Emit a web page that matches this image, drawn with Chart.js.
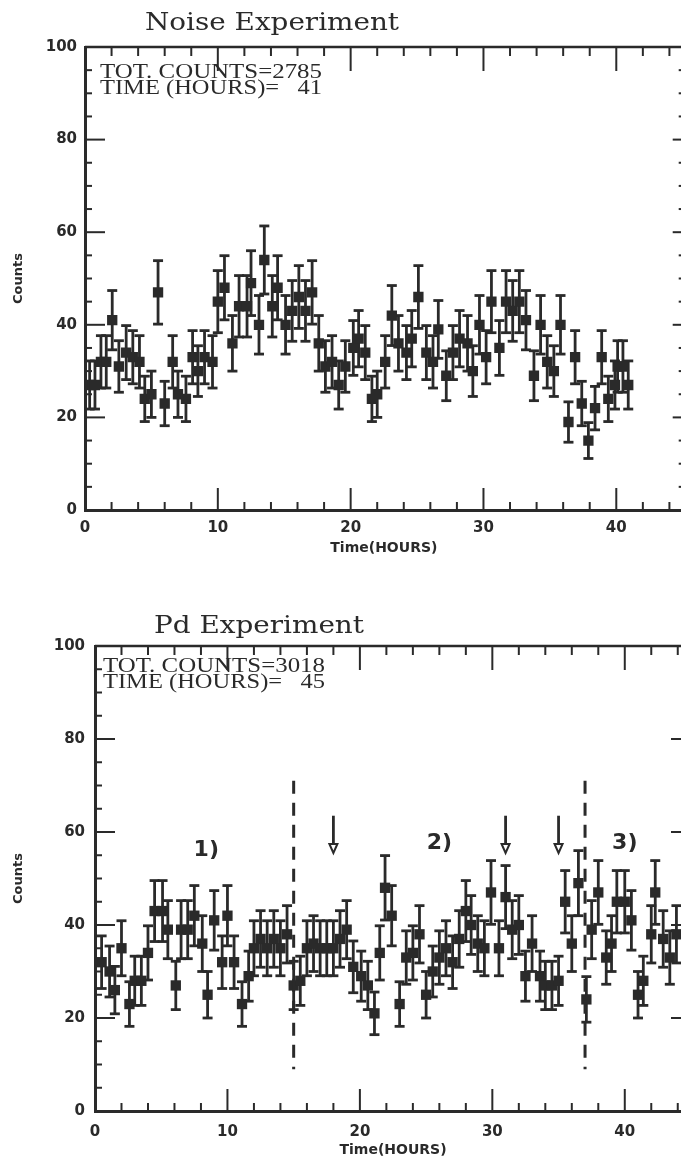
<!DOCTYPE html>
<html>
<head>
<meta charset="utf-8">
<script src="https://cdn.jsdelivr.net/npm/chart.js@4.4.0/dist/chart.umd.min.js"></script>
<style>
  html, body { margin: 0; padding: 0; background: #fff; width: 681px; height: 1156px; overflow: hidden; }
  .panel { position: absolute; left: 0; }
</style>
</head>
<body>
<div class="panel" style="top:0"><canvas id="noiseChart" width="690" height="580"></canvas></div>
<div class="panel" style="top:580px"><canvas id="pdChart" width="700" height="590"></canvas></div>
<script>
// ---- data ----
var noiseHours = [0.35, 0.75, 1.2, 1.6, 2.05, 2.55, 3.1, 3.6, 4.1, 4.5, 5.0, 5.5, 6.0, 6.6, 7.0, 7.6,
  8.1, 8.5, 9.0, 9.6, 10.0, 10.5, 11.1, 11.6, 12.2, 12.5, 13.1, 13.5, 14.1, 14.5, 15.1, 15.6,
  16.1, 16.6, 17.1, 17.6, 18.1, 18.6, 19.1, 19.6, 20.2, 20.6, 21.1, 21.6, 22.0, 22.6, 23.1, 23.6,
  24.2, 24.6, 25.1, 25.7, 26.2, 26.6, 27.2, 27.7, 28.2, 28.8, 29.2, 29.7, 30.2, 30.6, 31.2, 31.7,
  32.2, 32.7, 33.2, 33.8, 34.3, 34.8, 35.3, 35.8, 36.4, 36.9, 37.4, 37.9, 38.4, 38.9, 39.4, 39.9,
  40.1, 40.5, 40.9];
var noiseCounts = [27, 27, 32, 32, 41, 31, 34, 33, 32, 24, 25, 47, 23, 32, 25, 24,
  33, 30, 33, 32, 45, 48, 36, 44, 44, 49, 40, 54, 44, 48, 40, 43,
  46, 43, 47, 36, 31, 32, 27, 31, 35, 37, 34, 24, 25, 32, 42, 36,
  34, 37, 46, 34, 32, 39, 29, 34, 37, 36, 30, 40, 33, 45, 35, 45,
  43, 45, 41, 29, 40, 32, 30, 40, 19, 33, 23, 15, 22, 33, 24, 27,
  31, 31, 27];

var pdHours = [0.5, 1.1, 1.5, 2.0, 2.6, 3.0, 3.5, 4.0, 4.5, 5.1, 5.5, 6.1, 6.5, 7.0, 7.5, 8.1,
  8.5, 9.0, 9.6, 10.0, 10.5, 11.1, 11.6, 12.0, 12.5, 13.0, 13.5, 14.0, 14.5, 15.0, 15.5, 16.0,
  16.5, 17.0, 17.5, 18.0, 18.5, 19.0, 19.5, 20.1, 20.6, 21.1, 21.5, 21.9, 22.4, 23.0, 23.5, 24.0,
  24.5, 25.0, 25.5, 26.0, 26.5, 27.0, 27.5, 28.0, 28.4, 28.9, 29.4, 29.9, 30.5, 31.0, 31.5, 32.0,
  32.5, 33.0, 33.6, 34.0, 34.5, 35.0, 35.5, 36.0, 36.5, 37.1, 37.5, 38.0, 38.6, 39.0, 39.4, 40.0,
  40.5, 41.0, 41.4, 42.0, 42.3, 42.9, 43.4, 43.9];
var pdCounts = [32, 30, 26, 35, 23, 28, 28, 34, 43, 43, 39, 27, 39, 39, 42, 36,
  25, 41, 32, 42, 32, 23, 29, 35, 37, 35, 37, 35, 38, 27, 28, 35,
  36, 35, 35, 35, 37, 39, 31, 29, 27, 21, 34, 48, 42, 23, 33, 34,
  38, 25, 30, 33, 35, 32, 37, 43, 40, 36, 35, 47, 35, 46, 39, 40,
  29, 36, 29, 27, 27, 28, 45, 36, 49, 24, 39, 47, 33, 36, 45, 45,
  41, 25, 28, 38, 47, 37, 33, 38];

var noiseNotes = ['TOT. COUNTS=2785', 'TIME (HOURS)=   41'];
var pdNotes = ['TOT. COUNTS=3018', 'TIME (HOURS)=   45'];

// Pd panel annotations
var dashHours = [15, 37];
var arrowHours = [18, 31, 35];
var regionLabels = ['1)', '2)', '3)'];
var regionHours = [8.4, 26, 40];
var regionLevel = [56, 57.5, 57.5];

var INK = '#2a2a2a';

function toPoints(hours, counts) {
  return hours.map(function (h, i) { return { x: h, y: counts[i] }; });
}

function seg(ctx, x1, y1, x2, y2) {
  ctx.beginPath();
  ctx.moveTo(x1, y1);
  ctx.lineTo(x2, y2);
  ctx.stroke();
}

function fitText(ctx, text, x, y, width) {
  var w = ctx.measureText(text).width;
  ctx.save();
  ctx.translate(x, y);
  ctx.scale(width / w, 1);
  ctx.fillText(text, 0, 0);
  ctx.restore();
}

// Poisson error bars (sqrt of the counts), as in the original plot
var errorBars = {
  id: 'errorBars',
  beforeDatasetsDraw: function (chart) {
    var ctx = chart.ctx, xs = chart.scales.x, ys = chart.scales.y;
    ctx.save();
    ctx.strokeStyle = INK;
    ctx.lineWidth = 2.8;
    chart.data.datasets[0].data.forEach(function (p) {
      var e = Math.sqrt(p.y);
      var px = xs.getPixelForValue(p.x);
      var hi = ys.getPixelForValue(p.y + e);
      var lo = ys.getPixelForValue(p.y - e);
      seg(ctx, px, hi, px, lo);
      seg(ctx, px - 5, hi, px + 5, hi);
      seg(ctx, px - 5, lo, px + 5, lo);
    });
    ctx.restore();
  }
};

// inward tick marks on all four sides, plus top and right frame lines
var frame = {
  id: 'frame',
  afterDraw: function (chart, args, opts) {
    var ctx = chart.ctx, a = chart.chartArea;
    var xs = chart.scales.x, ys = chart.scales.y;
    ctx.save();
    ctx.strokeStyle = INK;
    ctx.lineWidth = 2.5;
    ctx.beginPath();
    ctx.moveTo(a.left, a.top);
    ctx.lineTo(a.right, a.top);
    ctx.lineTo(a.right, a.bottom);
    ctx.stroke();
    ctx.lineWidth = 2;
    xs.ticks.forEach(function (t) {
      if (t.value <= xs.min || t.value >= xs.max) return;
      var px = xs.getPixelForValue(t.value);
      var major = t.value % 10 === 0;
      seg(ctx, px, a.bottom, px, a.bottom - (major ? 22 : 8));
      seg(ctx, px, a.top, px, a.top + (major ? 24 : 9));
    });
    ys.ticks.forEach(function (t) {
      if (t.value <= ys.min || t.value >= ys.max) return;
      var py = ys.getPixelForValue(t.value);
      var major = t.value % 20 === 0;
      seg(ctx, a.left, py, a.left + (major ? 20 : 7), py);
      seg(ctx, a.right, py, a.right - (major ? opts.rightMajor : opts.rightMinor), py);
    });
    ctx.restore();
  }
};

// title and the counts/time note
var notes = {
  id: 'notes',
  afterDraw: function (chart, args, opts) {
    var ctx = chart.ctx, a = chart.chartArea;
    ctx.save();
    ctx.fillStyle = INK;
    ctx.textBaseline = 'alphabetic';
    ctx.textAlign = 'left';
    ctx.font = '24px "DejaVu Serif"';
    fitText(ctx, opts.title, opts.titleX, opts.titleY, opts.titleW);
    ctx.font = '21px "Liberation Serif"';
    opts.lines.forEach(function (s, i) {
      fitText(ctx, s, opts.noteX, a.top + opts.noteDy + i * 16, opts.noteW);
    });
    ctx.restore();
  }
};

// dashed separators, arrows and region labels on the Pd panel
var marks = {
  id: 'marks',
  afterDatasetsDraw: function (chart, args, opts) {
    if (!opts.show) return;
    var ctx = chart.ctx, xs = chart.scales.x, ys = chart.scales.y;
    ctx.save();
    ctx.strokeStyle = INK;
    ctx.fillStyle = INK;
    ctx.lineWidth = 3;
    ctx.setLineDash([13, 9]);
    dashHours.forEach(function (h) {
      var px = xs.getPixelForValue(h);
      seg(ctx, px, ys.getPixelForValue(71), px, ys.getPixelForValue(9));
    });
    ctx.setLineDash([]);
    arrowHours.forEach(function (h) {
      var px = xs.getPixelForValue(h);
      var top = ys.getPixelForValue(63.5), tip = ys.getPixelForValue(55.5);
      ctx.lineWidth = 2.8;
      seg(ctx, px, top, px, tip - 9);
      ctx.lineWidth = 2;
      ctx.beginPath();
      ctx.moveTo(px - 4, tip - 9);
      ctx.lineTo(px + 4, tip - 9);
      ctx.lineTo(px, tip);
      ctx.closePath();
      ctx.fillStyle = '#fff';
      ctx.fill();
      ctx.stroke();
    });
    ctx.fillStyle = INK;
    ctx.font = 'bold 22px "DejaVu Sans"';
    ctx.textAlign = 'center';
    ctx.textBaseline = 'middle';
    regionLabels.forEach(function (s, i) {
      ctx.fillText(s, xs.getPixelForValue(regionHours[i]), ys.getPixelForValue(regionLevel[i]));
    });
    ctx.restore();
  }
};

function makeChart(id, hours, counts, cfg) {
  return new Chart(document.getElementById(id), {
    type: 'scatter',
    data: {
      datasets: [{
        data: toPoints(hours, counts),
        pointStyle: 'rect',
        pointRadius: 7.3,
        pointHoverRadius: 7.3,
        backgroundColor: INK,
        borderWidth: 0
      }]
    },
    options: {
      responsive: false,
      animation: false,
      events: [],
      layout: { padding: { top: cfg.top, right: cfg.right, left: 0, bottom: 0 } },
      scales: {
        x: {
          type: 'linear',
          min: 0,
          max: 45,
          afterFit: function (s) { s.height = cfg.xHeight; },
          border: { color: INK, width: 3 },
          grid: { drawOnChartArea: false, drawTicks: false },
          ticks: {
            stepSize: 2,
            includeBounds: false,
            autoSkip: false,
            maxRotation: 0,
            padding: cfg.xPad,
            color: INK,
            font: { family: 'DejaVu Sans', weight: 'bold', size: 15 },
            callback: function (v) { return v % 10 === 0 ? v : ''; }
          },
          title: {
            display: true,
            text: 'Time(HOURS)',
            color: INK,
            font: { family: 'DejaVu Sans', weight: 'bold', size: 14 },
            padding: { top: 0, bottom: cfg.xTitlePad }
          }
        },
        y: {
          min: 0,
          max: 100,
          afterFit: function (s) { s.width = cfg.left; },
          border: { color: INK, width: 3 },
          grid: { drawOnChartArea: false, drawTicks: false },
          ticks: {
            stepSize: 5,
            autoSkip: false,
            padding: cfg.yPad,
            color: INK,
            font: { family: 'DejaVu Sans', weight: 'bold', size: 15 },
            callback: function (v) { return v % 20 === 0 ? v : ''; }
          },
          title: {
            display: true,
            text: 'Counts',
            color: INK,
            font: { family: 'DejaVu Sans', weight: 'bold', size: 13 },
            padding: { top: 11, bottom: 0 }
          }
        }
      },
      plugins: {
        legend: { display: false },
        tooltip: { enabled: false },
        frame: { rightMajor: cfg.rightMajor, rightMinor: cfg.rightMinor },
        notes: cfg.notes,
        marks: { show: cfg.marks }
      }
    },
    plugins: [errorBars, frame, notes, marks]
  });
}

makeChart('noiseChart', noiseHours, noiseCounts, {
  top: 47, right: 6, left: 85, xHeight: 70, xPad: 9, xTitlePad: 23, yPad: 8,
  rightMajor: 10, rightMinor: 4, marks: false,
  notes: { title: 'Noise Experiment', titleX: 145, titleY: 30, titleW: 254,
           lines: noiseNotes, noteX: 100, noteDy: 31, noteW: 222 }
});

makeChart('pdChart', pdHours, pdCounts, {
  top: 66, right: 9, left: 95, xHeight: 59, xPad: 12, xTitlePad: 11, yPad: 10,
  rightMajor: 20, rightMinor: 7, marks: true,
  notes: { title: 'Pd Experiment', titleX: 154, titleY: 53, titleW: 210,
           lines: pdNotes, noteX: 103, noteDy: 26, noteW: 222 }
});
</script>
</body>
</html>
